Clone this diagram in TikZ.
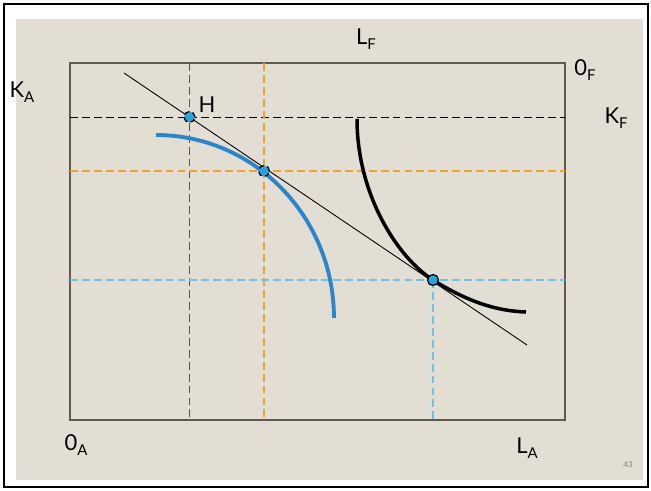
\documentclass[tikz,border=0pt]{standalone}
\usepackage{fontspec}
\setmainfont{Lato}
\usetikzlibrary{positioning}
\definecolor{slidebg}{HTML}{E3DED3}
\definecolor{boxgrey}{HTML}{5E5A52}
\definecolor{ppfblue}{HTML}{2B86C9}
\definecolor{dotblue}{HTML}{2AA3DC}
\definecolor{guideorange}{HTML}{F2A233}
\definecolor{guidecyan}{HTML}{6CC3E3}
\definecolor{guidegrey}{HTML}{57524C}
\newcommand{\axsub}[2]{#1\raisebox{-0.45ex}{\fontsize{8.5}{10}\selectfont #2}}

\tikzset{
  guide/.style={line width=0.6pt, dash pattern=on 4.5pt off 2.3pt},
  eqdot/.style={circle, draw=black, densely dashed, line width=0.7pt, fill=dotblue, minimum size=0.22cm, inner sep=0pt},
  axlabel/.style={font=\fontsize{12.5}{14}\selectfont, inner sep=0pt}
}

\begin{document}
\begin{tikzpicture}[x=0.02cm, y=-0.02cm]
  \useasboundingbox (0,0) rectangle (651,490);
  \fill[white] (0,0) rectangle (651,490);
  \fill[slidebg] (16,19) rectangle (643,480);
  \draw[line width=1.1pt] (4,4) rectangle (648,487);

  % box and points
  \coordinate (boxNW) at (70,63);
  \coordinate (boxSE) at (565,420);
  \coordinate (pH) at (189.5,117);
  \coordinate (pM) at (264,171);
  \coordinate (pE) at (433,280);
  \coordinate (tanA) at (124,73);
  \coordinate (tanB) at (527,345);
  \coordinate (ppfTop) at (156,135);
  \coordinate (isoTop) at (357,119);
  \coordinate (isoEnd) at (526,312);

  \draw[boxgrey, line width=0.9pt] (boxNW) rectangle (boxSE);

  % guides
  \draw[guide, black, line width=0.5pt] (boxNW |- pH) -- (boxSE |- pH);
  \draw[guide, guidegrey, line width=1.1pt] (pH |- boxNW) -- (pH |- boxSE);
  \draw[guide, guideorange] (boxNW |- pM) -- (boxSE |- pM);
  \draw[guide, guideorange, line width=0.8pt] (pM |- boxNW) -- (pM |- boxSE);
  \draw[guide, guidecyan, line width=1.1pt] (boxNW |- pE) -- (boxSE |- pE);
  \draw[guide, guidecyan, line width=1.1pt] (pE) -- (pE |- boxSE);

  % curves
  \draw[line width=0.5pt] (tanA) -- (tanB);
  \draw[ppfblue, line width=2.2pt] (ppfTop) arc[start angle=90, end angle=0, x radius=3.56cm, y radius=3.66cm];
  \draw[line width=2pt] (isoTop) .. controls (357,195) and (398,258) .. (pE) .. controls (468,302) and (497,311) .. (isoEnd);

  \node[eqdot] (eqH) at (pH) {};
  \node[eqdot] (eqM) at (pM) {};
  \node[eqdot, solid] (eqE) at (pE) {};

  % labels
  \node[axlabel] (lblLF) at (366,39) {\axsub{L}{F}};
  \node[axlabel] (lblOF) at (585,70) {\axsub{0}{F}};
  \node[axlabel] (lblKF) at (616,118) {\axsub{K}{F}};
  \node[axlabel] (lblKA) at (22,92) {\axsub{K}{A}};
  \node[axlabel] (lblH) at (207,105) {H};
  \node[axlabel] (lblOA) at (76,445) {\axsub{0}{A}};
  \node[axlabel] (lblLA) at (527,448) {\axsub{L}{A}};
  \node[font=\fontsize{4.5}{5}\selectfont, text=gray, inner sep=0pt] (pagenum) at (628,465) {43};
\end{tikzpicture}
\end{document}
